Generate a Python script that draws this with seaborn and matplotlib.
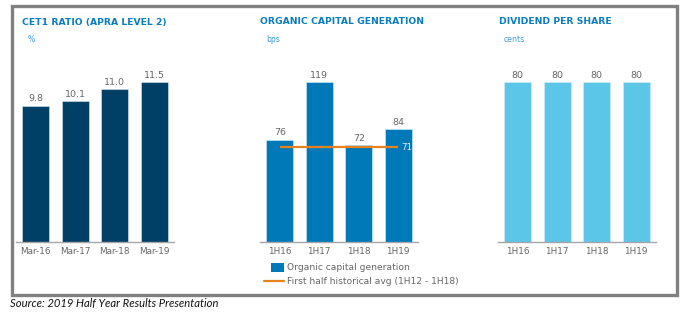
import matplotlib
matplotlib.use("Agg")
import matplotlib.pyplot as plt
import seaborn as sns
from matplotlib.patches import Rectangle
from matplotlib.lines import Line2D

sns.set_theme(style="white")
plt.rcParams['font.family'] = ['DejaVu Sans']

# ---- data ----
cet1_cats = ["Mar-16", "Mar-17", "Mar-18", "Mar-19"]
cet1_vals = [9.8, 10.1, 11.0, 11.5]
ocg_cats = ["1H16", "1H17", "1H18", "1H19"]
ocg_vals = [76, 119, 72, 84]
ocg_avg = 71
dps_cats = ["1H16", "1H17", "1H18", "1H19"]
dps_vals = [80, 80, 80, 80]

titles = ["CET1 RATIO (APRA LEVEL 2)", "ORGANIC CAPITAL GENERATION", "DIVIDEND PER SHARE"]
units = ["%", "bps", "cents"]
legend_labels = ["Organic capital generation", "First half historical avg (1H12 - 1H18)"]
source_text = "Source: 2019 Half Year Results Presentation"

# ---- style ----
W, H = 691, 322
C_NAVY = "#003f66"
C_BLUE = "#0079b9"
C_LIGHT = "#5bc6e8"
C_ORANGE = "#e8821e"
C_TITLE = "#0a7cc0"
C_UNIT = "#3a9fd6"
C_TEXT = "#666666"
C_AXIS = "#a6a6a6"

fig = plt.figure(figsize=(W / 100, H / 100), dpi=100)
fig.patch.set_facecolor("white")


def fx(x):
    return x / W


def fy(y):
    return 1 - y / H


# outer frame
fig.add_artist(Rectangle((fx(12), fy(295)), fx(677) - fx(12), fy(6) - fy(295),
                         transform=fig.transFigure, fill=False,
                         edgecolor="#808080", linewidth=2.4))

base_y = 242
top_y = 60
panels = [
    (16, cet1_cats, cet1_vals, C_NAVY, 160 / 11.5, "{:.1f}"),
    (260, ocg_cats, ocg_vals, C_BLUE, 160 / 119, "{:d}"),
    (498, dps_cats, dps_vals, C_LIGHT, 160 / 80, "{:d}"),
]
title_pos = [(22.5, 28), (260.5, 266), (499, 503.5)]

axes = []
for i, (x0, cats, vals, col, scale, fmt) in enumerate(panels):
    ax = fig.add_axes([fx(x0), fy(base_y), 158 / W, (base_y - top_y) / H])
    sns.barplot(x=cats, y=vals, color=col, ax=ax, width=0.68,
                saturation=1, edgecolor="#d6ecf7", linewidth=0.4)
    ax.set_xlim(-0.5, 3.5)
    ax.set_ylim(0, (base_y - top_y) / scale)
    for s in ["left", "right", "top"]:
        ax.spines[s].set_visible(False)
    ax.spines["bottom"].set_color(C_AXIS)
    ax.spines["bottom"].set_linewidth(1.0)
    ax.set_yticks([])
    ax.tick_params(axis="x", length=0, pad=3.6, labelsize=6.4, labelcolor=C_TEXT)
    ax.set_xlabel("")
    ax.set_ylabel("")
    ax.patch.set_alpha(0)
    for j, v in enumerate(vals):
        ax.annotate(fmt.format(v), (j, v), xytext=(0, 5), textcoords="offset points",
                    ha="center", va="center", fontsize=6.8, color=C_TEXT)
    axes.append(ax)
    tx, ux = title_pos[i]
    fig.text(fx(tx), fy(22), titles[i], fontsize=6.7, fontweight="bold",
             color=C_TITLE, ha="left", va="center")
    fig.text(fx(ux), fy(39), units[i], fontsize=5.6, color=C_UNIT,
             ha="left", va="center")

# historical average line in middle panel
ax2 = axes[1]
ax2.plot([0, 3], [ocg_avg, ocg_avg], color=C_ORANGE, linewidth=1.6, solid_capstyle="butt")
ax2.annotate(str(ocg_avg), (3, ocg_avg), xytext=(2.3, -0.5), textcoords="offset points",
             ha="left", va="center", fontsize=6.2, color="#e6f4fb")

# legend (manual)
fig.add_artist(Rectangle((fx(270.5), fy(272)), fx(283.5) - fx(270.5), fy(263) - fy(272),
                         transform=fig.transFigure, facecolor=C_BLUE, edgecolor="none"))
fig.add_artist(Line2D([fx(264), fx(283.5)], [fy(281), fy(281)], transform=fig.transFigure,
                      color=C_ORANGE, linewidth=1.6))
fig.text(fx(287), fy(268), legend_labels[0], fontsize=6.6, color=C_TEXT, ha="left", va="center")
fig.text(fx(287), fy(282), legend_labels[1], fontsize=6.6, color=C_TEXT, ha="left", va="center")

# source
fig.text(fx(10), fy(303.5), source_text, fontsize=8.1, fontstyle="italic",
         family=["Lato", "DejaVu Sans"], color="#111111", ha="left", va="center")

fig.savefig("out.png", dpi=100, facecolor="white")
